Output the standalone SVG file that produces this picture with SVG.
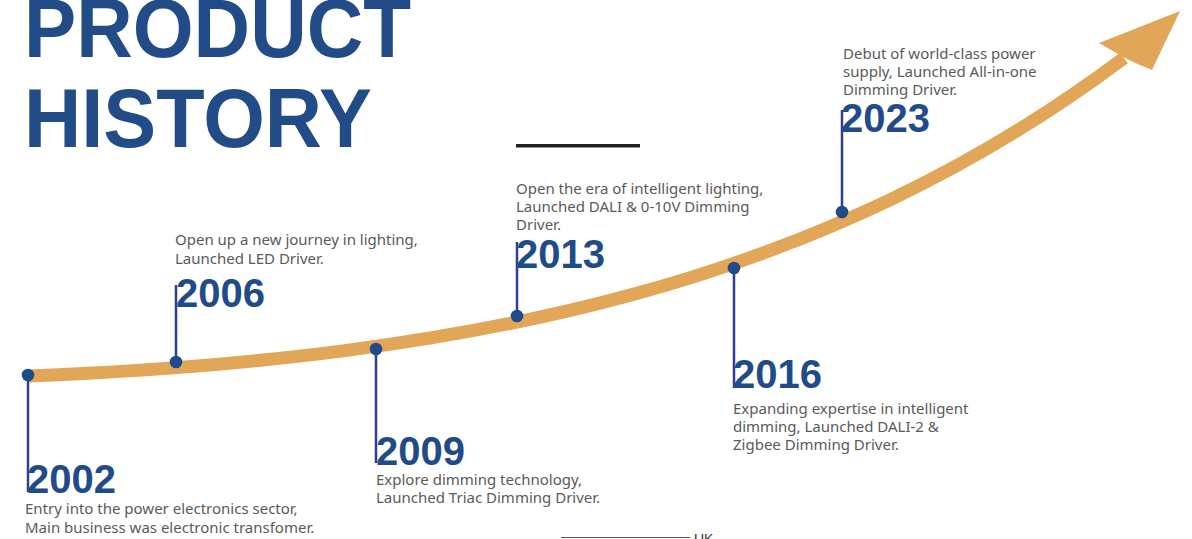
<svg xmlns="http://www.w3.org/2000/svg" width="1192" height="539" viewBox="0 0 1192 539">
<style>
.title{font-family:"Liberation Sans",Arial,sans-serif;font-weight:bold;font-size:84px;fill:#214C87}
.year{font-family:"Liberation Sans",Arial,sans-serif;font-weight:bold;font-size:40px;fill:#1F4C89}
.desc{font-family:"Noto Sans","Liberation Sans",sans-serif;font-size:15px;fill:#5A5A5A}
.stem{stroke:#2E3F98;stroke-width:2.5;fill:none}
.dot{fill:#1F4C89}
.curve{stroke:#E1A657;stroke-width:13;fill:none}
</style>
<rect width="1192" height="539" fill="#ffffff"/>
<g id="title">
<text class="title" x="24" y="57" textLength="387" lengthAdjust="spacingAndGlyphs">PRODUCT</text>
<text class="title" x="24" y="147" textLength="348" lengthAdjust="spacingAndGlyphs">HISTORY</text>
<rect x="516" y="144" width="124" height="3.5" fill="#231F20"/>
</g>
<g id="connectors">
<path class="curve" d="M28,376 C478,358 824,283 1124,58"/>
<polygon points="1180,11 1099,43 1118,54 1133,62 1152,70" fill="#E1A657"/>
</g>
<g id="m2002">
<line class="stem" x1="28" y1="375" x2="28" y2="492"/>
<circle class="dot" cx="28" cy="375" r="6.3"/>
<text class="year" x="27" y="493">2002</text>
<text class="desc" x="25" y="514">Entry into the power electronics sector,</text>
<text class="desc" x="25" y="533">Main business was electronic transfomer.</text>
</g>
<g id="m2006">
<line class="stem" x1="176" y1="362" x2="176" y2="285"/>
<circle class="dot" cx="176" cy="362" r="6.3"/>
<text class="year" x="176" y="307">2006</text>
<text class="desc" x="175" y="245">Open up a new journey in lighting,</text>
<text class="desc" x="175" y="264">Launched LED Driver.</text>
</g>
<g id="m2009">
<line class="stem" x1="376" y1="349" x2="376" y2="463"/>
<circle class="dot" cx="376" cy="349" r="6.3"/>
<text class="year" x="376" y="465">2009</text>
<text class="desc" x="376" y="485">Explore dimming technology,</text>
<text class="desc" x="376" y="503">Launched Triac Dimming Driver.</text>
</g>
<g id="m2013">
<line class="stem" x1="517" y1="316" x2="517" y2="242"/>
<circle class="dot" cx="517" cy="316" r="6.3"/>
<text class="year" x="516" y="268">2013</text>
<text class="desc" x="516" y="194">Open the era of intelligent lighting,</text>
<text class="desc" x="516" y="212">Launched DALI &amp; 0-10V Dimming</text>
<text class="desc" x="516" y="230">Driver.</text>
</g>
<g id="m2016">
<line class="stem" x1="734" y1="268" x2="734" y2="388"/>
<circle class="dot" cx="734" cy="268" r="6.3"/>
<text class="year" x="733" y="388">2016</text>
<text class="desc" x="733" y="414">Expanding expertise in intelligent</text>
<text class="desc" x="733" y="432">dimming, Launched DALI-2 &amp;</text>
<text class="desc" x="733" y="450">Zigbee Dimming Driver.</text>
</g>
<g id="m2023">
<line class="stem" x1="842" y1="212" x2="842" y2="110"/>
<circle class="dot" cx="842" cy="212" r="6.3"/>
<text class="year" x="841" y="132">2023</text>
<text class="desc" x="843" y="59">Debut of world-class power</text>
<text class="desc" x="843" y="77">supply, Launched All-in-one</text>
<text class="desc" x="843" y="95">Dimming Driver.</text>
</g>
<g id="footer">
<line x1="561" y1="537.5" x2="690" y2="537.5" stroke="#555555" stroke-width="1"/>
<text x="694" y="544" font-family="Liberation Sans,Arial,sans-serif" font-size="14" fill="#333333">UK</text>
</g>
</svg>
